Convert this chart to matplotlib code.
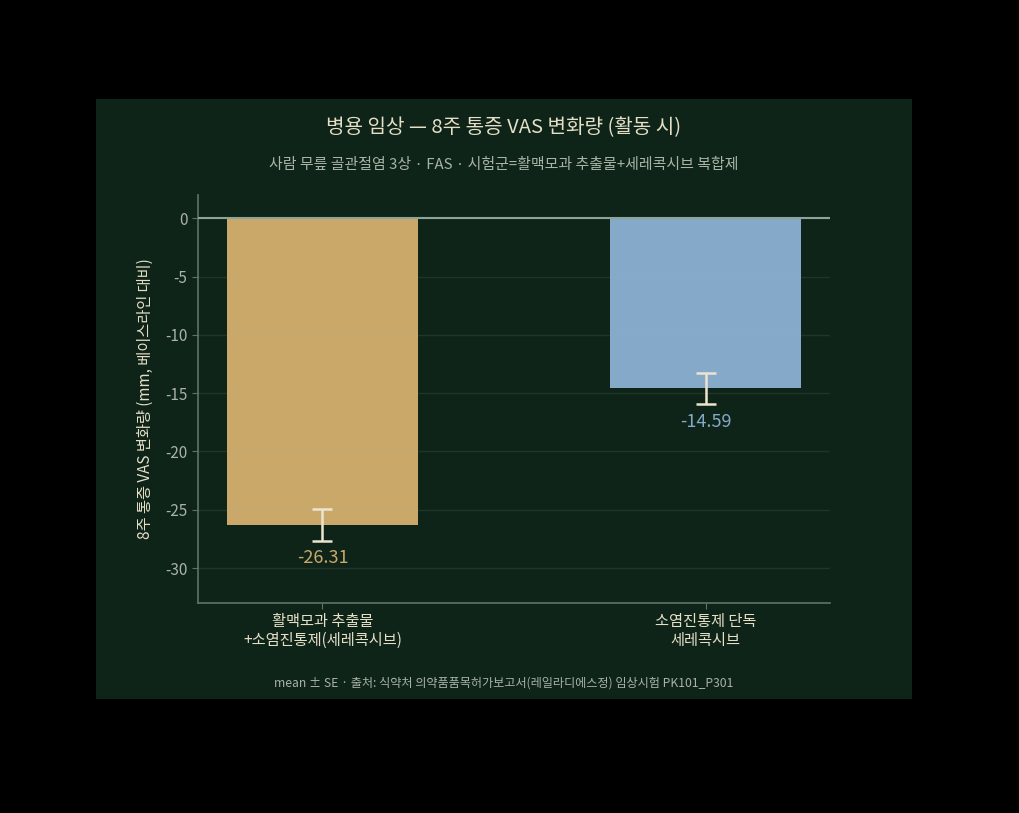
import matplotlib
matplotlib.use("Agg")
import matplotlib.pyplot as plt
from matplotlib.patches import Rectangle

plt.rcParams["font.family"] = ["Noto Sans CJK KR", "DejaVu Sans"]
plt.rcParams["axes.unicode_minus"] = False

# data
groups = ["활맥모과 추출물\n+소염진통제(세레콕시브)", "소염진통제 단독\n세레콕시브"]
means = [-26.31, -14.59]
ses = [1.35, 1.33]
bar_colors = ["#c9a86a", "#85a9c9"]

BG = "#0e2418"
TEXT = "#e6dfc8"
MUTED = "#a9b3a6"
SPINE = "#5c7565"

fig = plt.figure(figsize=(10.2, 8.13), dpi=100)
fig.patch.set_facecolor("black")
panel = Rectangle((96 / 1020, 1 - 699 / 813), 816 / 1020, 600 / 813,
                  transform=fig.transFigure, facecolor=BG,
                  edgecolor="none", zorder=-10)
fig.patches.append(panel)

ax = fig.add_axes([198 / 1020, 1 - 603 / 813, 632 / 1020, 408 / 813])
ax.set_zorder(1)
ax.set_facecolor(BG)

x = list(range(len(groups)))
ax.bar(x, means, width=0.5, color=bar_colors, zorder=2)
ax.errorbar(x, means, yerr=ses, fmt="none", ecolor="#ece4cf",
            elinewidth=1.8, capsize=7, capthick=1.8, zorder=4)

# value labels under the error bars
for xi, m, s, c in zip(x, means, ses, bar_colors):
    ax.text(xi, m - s - 0.75, f"{m:.2f}", ha="center", va="top",
            fontsize=13, color=c, zorder=5)

ax.axhline(0, color="#8ea596", linewidth=1.5, zorder=3)
ax.set_ylim(-33, 2)
ax.set_yticks([0, -5, -10, -15, -20, -25, -30])
ax.yaxis.grid(True, color="#a0b8a0", alpha=0.12, linewidth=1)
ax.set_axisbelow(False)
for gl in ax.get_ygridlines():
    gl.set_zorder(3)

ax.set_xticks(x)
ax.set_xticklabels(groups, fontsize=11, color=TEXT, linespacing=1.1)
ax.tick_params(axis="y", colors=MUTED, labelsize=11, length=4, color=SPINE)
ax.tick_params(axis="x", colors=SPINE, length=4)
for lbl in ax.get_xticklabels():
    lbl.set_color(TEXT)
for lbl in ax.get_yticklabels():
    lbl.set_color(MUTED)

ax.spines["top"].set_visible(False)
ax.spines["right"].set_visible(False)
ax.spines["left"].set_color(SPINE)
ax.spines["bottom"].set_color(SPINE)
ax.spines["left"].set_linewidth(1.2)
ax.spines["bottom"].set_linewidth(1.2)

ax.set_ylabel("8주 통증 VAS 변화량 (mm, 베이스라인 대비)", fontsize=11,
              color=TEXT, labelpad=8)

fig.text(504 / 1020, 1 - 128 / 813, "병용 임상 — 8주 통증 VAS 변화량 (활동 시)",
         ha="center", va="center", fontsize=14.5, color=TEXT)
fig.text(504 / 1020, 1 - 165 / 813,
         "사람 무릎 골관절염 3상 · FAS · 시험군=활맥모과 추출물+세레콕시브 복합제",
         ha="center", va="center", fontsize=10.75, color=MUTED)
fig.text(504 / 1020, 1 - 683 / 813,
         "mean ± SE · 출처: 식약처 의약품품목허가보고서(레일라디에스정) 임상시험 PK101_P301",
         ha="center", va="center", fontsize=8.75, color=MUTED)

fig.savefig("out.png", dpi=100, facecolor=fig.get_facecolor())
